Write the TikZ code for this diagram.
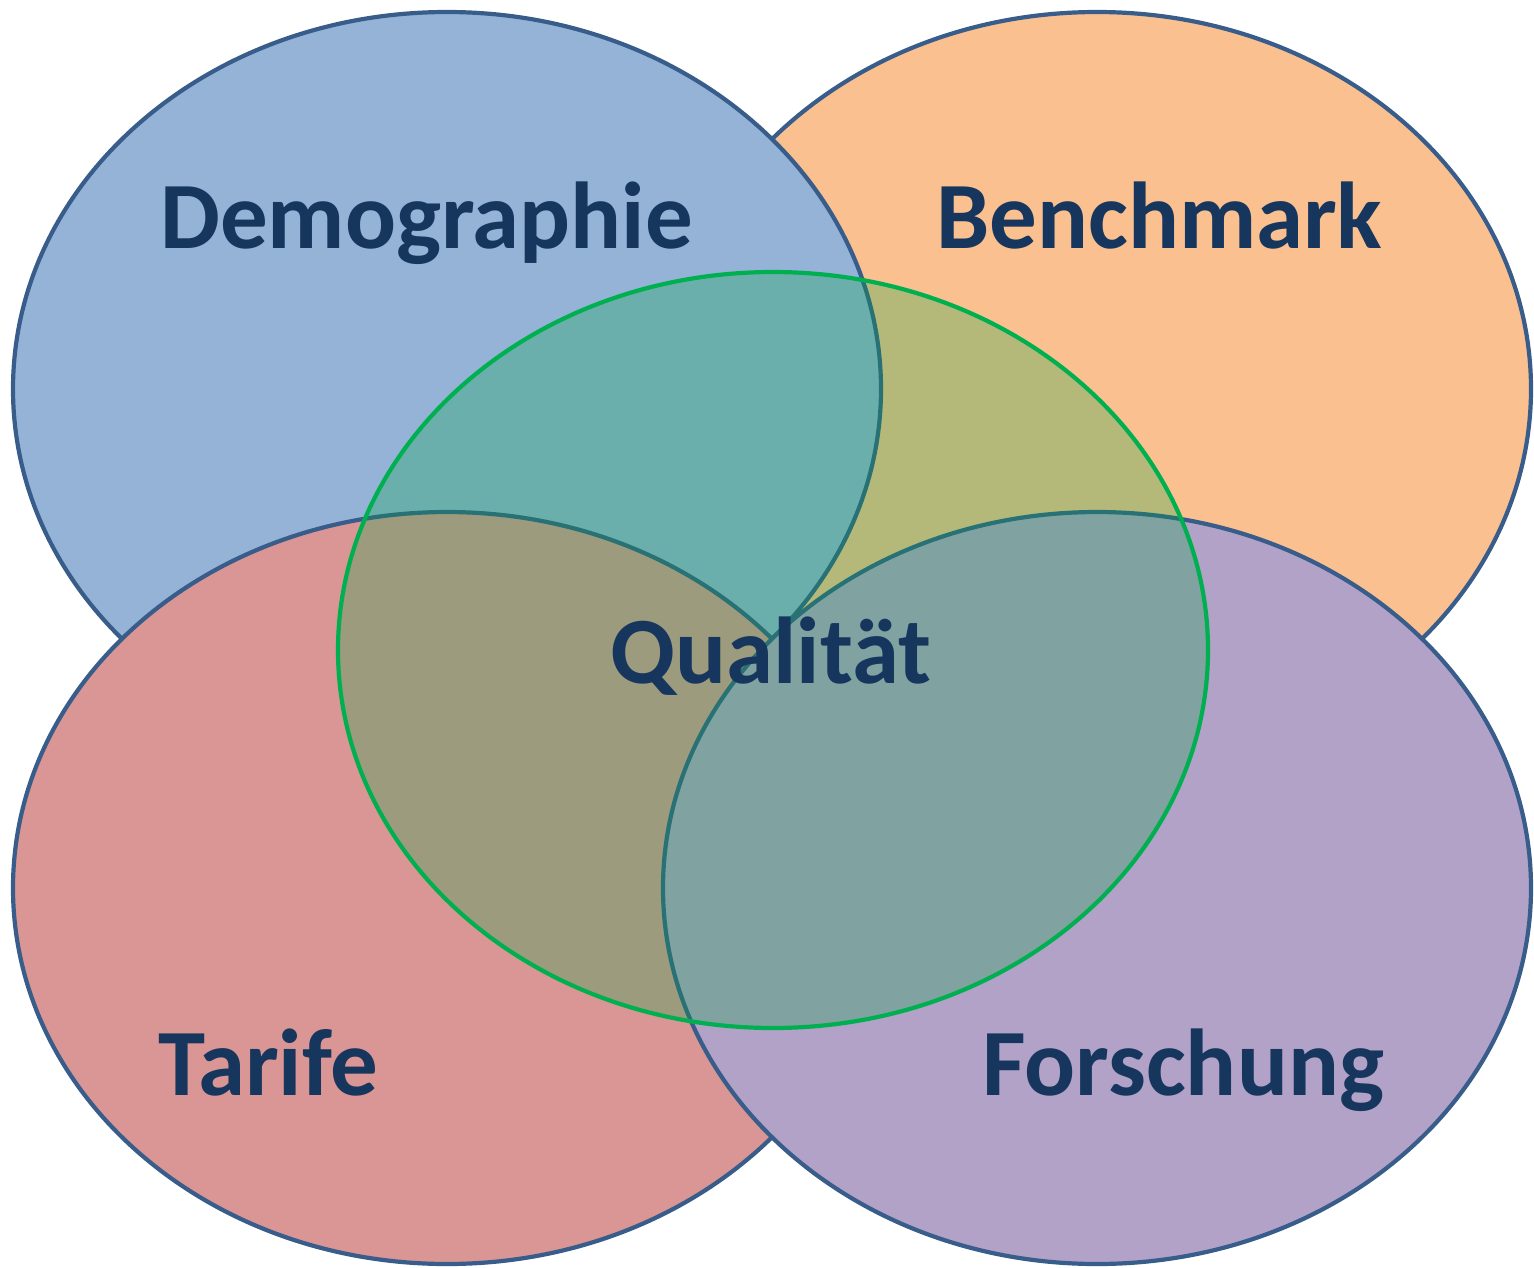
\documentclass[tikz,border=0pt]{standalone}
\usepackage{fontspec}
\setmainfont{Carlito}
\definecolor{cblue}{HTML}{95B3D7}
\definecolor{corange}{HTML}{FAC090}
\definecolor{cred}{HTML}{D99694}
\definecolor{cpurple}{HTML}{B2A2C7}
\definecolor{cedge}{HTML}{385D8A}
\definecolor{cgreen}{HTML}{00B050}
\definecolor{cgfill}{RGB}{0,168,66}
\definecolor{ctext}{HTML}{17365D}
\begin{document}
\begin{tikzpicture}[x=1pt,y=-1pt,
  bubble/.style={draw=cedge,line width=4.2pt},
  lbl/.style={text=ctext,font=\fontsize{95}{105}\selectfont\bfseries,anchor=base west,inner sep=0pt}]
\useasboundingbox (0,0) rectangle (1534,1267);
\fill[corange] (1097,389) ellipse [x radius=434,y radius=377];
\draw[bubble] (1097,389) ellipse [x radius=434,y radius=377];
\fill[cblue] (447,389) ellipse [x radius=434,y radius=377];
\draw[bubble] (447,389) ellipse [x radius=434,y radius=377];
\fill[cred] (447,888) ellipse [x radius=434,y radius=376];
\draw[bubble] (447,888) ellipse [x radius=434,y radius=376];
\fill[cpurple] (1097,888) ellipse [x radius=434,y radius=376];
\draw[bubble] (1097,888) ellipse [x radius=434,y radius=376];
\fill[cgfill,fill opacity=0.28] (773,650) ellipse [x radius=435,y radius=378];
\draw[cgreen,line width=4.2pt] (773,650) ellipse [x radius=435,y radius=378];
\node[lbl] (demo) at (160,248) {Demographie};
\node[lbl] (bench) at (936,248) {Benchmark};
\node[lbl] (tarif) at (158,1095) {Tarife};
\node[lbl] (forsch) at (982,1095) {Forschung};
\node[lbl] (qual) at (610,683) {Qualität};
\end{tikzpicture}
\end{document}
